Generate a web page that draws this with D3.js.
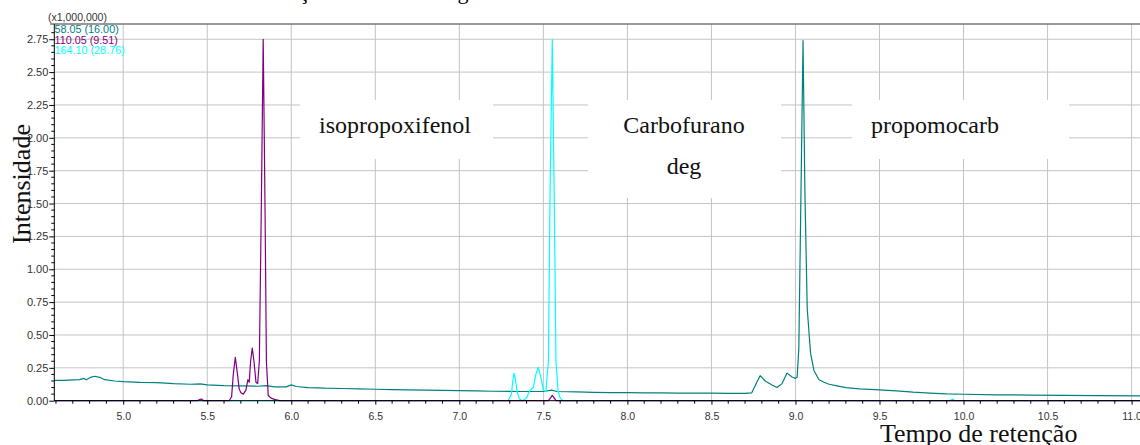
<!DOCTYPE html>
<html>
<head>
<meta charset="utf-8">
<script src="https://cdn.jsdelivr.net/npm/d3@7"></script>
<style>
  body { margin: 0; background: #fff; }
  svg { display: block; }
</style>
</head>
<body>
<div id="chart"></div>
<script>
// ---------------------------  DATA  ---------------------------
// retention time (min), intensity (x1,000,000)

// m/z 58.05 (16.00)
const trace_58 = [
  [4.59,0.155],[4.65,0.155],[4.70,0.158],[4.74,0.160],[4.766,0.170],[4.78,0.160],
  [4.81,0.180],[4.83,0.186],[4.86,0.178],[4.89,0.160],[4.95,0.150],[5.00,0.145],
  [5.10,0.140],[5.20,0.138],[5.30,0.130],[5.40,0.125],[5.46,0.128],[5.50,0.120],
  [5.60,0.115],[5.70,0.113],[5.80,0.110],[5.85,0.115],[5.90,0.105],[5.97,0.105],
  [6.00,0.120],[6.03,0.108],[6.10,0.100],[6.20,0.095],[6.30,0.093],[6.40,0.090],
  [6.50,0.087],[6.60,0.085],[6.70,0.082],[6.80,0.080],[6.90,0.078],[7.00,0.076],
  [7.10,0.074],[7.20,0.072],[7.30,0.071],[7.40,0.070],[7.50,0.070],[7.55,0.080],
  [7.58,0.070],[7.70,0.067],[7.80,0.064],[7.90,0.062],[8.00,0.061],[8.10,0.060],
  [8.20,0.059],[8.30,0.058],[8.40,0.057],[8.50,0.057],[8.60,0.056],[8.70,0.056],
  [8.74,0.060],[8.77,0.140],[8.79,0.190],[8.82,0.150],[8.86,0.120],[8.89,0.100],
  [8.92,0.130],[8.95,0.210],[8.98,0.180],[9.00,0.170],[9.01,0.180],[9.02,0.400],
  [9.033,1.600],[9.045,2.740],[9.056,1.600],[9.070,0.700],[9.090,0.360],[9.110,0.230],
  [9.140,0.160],[9.17,0.140],[9.20,0.125],[9.24,0.115],[9.30,0.100],[9.38,0.090],
  [9.50,0.082],[9.60,0.075],[9.70,0.065],[9.80,0.058],[9.90,0.052],[10.00,0.049],
  [10.20,0.045],[10.40,0.043],[10.60,0.041],[10.80,0.039],[11.05,0.037]
];

// m/z 110.05 (9.51)
const trace_110 = [
  [4.59,0],[5.44,0],[5.455,0.008],[5.466,0.013],[5.478,0],[5.63,0],[5.645,0.030],
  [5.655,0.200],[5.667,0.330],[5.68,0.200],[5.69,0.090],[5.70,0.060],[5.715,0.050],
  [5.73,0.080],[5.742,0.160],[5.75,0.140],[5.758,0.300],[5.768,0.400],[5.778,0.300],
  [5.79,0.140],[5.80,0.130],[5.81,0.300],[5.822,1.500],[5.833,2.750],[5.844,1.450],
  [5.852,0.300],[5.863,0.040],[5.88,0.020],[5.90,0.010],[5.93,0],[7.53,0],
  [7.545,0.025],[7.553,0.040],[7.562,0.025],[7.575,0],[11.05,0]
];

// m/z 164.10 (28.76)
const trace_164 = [
  [4.59,0],[7.29,0],[7.31,0.050],[7.318,0.150],[7.326,0.210],[7.335,0.150],
  [7.345,0.060],[7.36,0.010],[7.375,0],[7.40,0.020],[7.42,0.080],[7.44,0.100],
  [7.455,0.200],[7.47,0.254],[7.485,0.180],[7.50,0.080],[7.515,0.070],[7.53,0.300],
  [7.540,1.600],[7.553,2.750],[7.565,1.500],[7.575,0.300],[7.588,0.070],[7.60,0.020],
  [7.615,0],[9.92,0],[9.935,0.012],[9.95,0],[11.05,0]
];

const series_names  = ["58.05 (16.00)", "110.05 (9.51)", "164.10 (28.76)"];
const series_colors = ["#008080", "#800080", "#00ffff"];

const x_ticks = [5.0, 5.5, 6.0, 6.5, 7.0, 7.5, 8.0, 8.5, 9.0, 9.5, 10.0, 10.5, 11.0];
const y_ticks = [0, 0.25, 0.5, 0.75, 1.0, 1.25, 1.5, 1.75, 2.0, 2.25, 2.5, 2.75];

const peak_labels = [["isopropoxifenol"], ["Carbofurano", "deg"], ["propomocarb"]];

const title_text = "Identificação da amostra degradada";
const x_title = "Tempo de retenção";
const y_title = "Intensidade";
const y_unit  = "(x1,000,000)";

// ---------------------------  LAYOUT  ---------------------------
const W = 1140, H = 445;
const m_left = 54.3, m_right = 1140, m_top = 24, m_bottom = 400.7;

const svg = d3.select("#chart").append("svg")
  .attr("width", W).attr("height", H);

const x = d3.scaleLinear().domain([4.59, 11.05]).range([m_left, m_right]);
const y = d3.scaleLinear().domain([0, 2.866]).range([m_bottom, m_top]);

// clipped caption above the chart (only descenders show)
svg.append("text")
  .attr("x", 215).attr("y", -1)
  .style("font-family", "'Liberation Serif', 'Times New Roman', serif")
  .style("font-size", "22px")
  .text(title_text);

// gridlines
const grid = svg.append("g");
grid.selectAll("line.vx").data(x_ticks).join("line")
  .attr("x1", d => x(d)).attr("x2", d => x(d))
  .attr("y1", m_top).attr("y2", m_bottom)
  .attr("stroke", "#c4c4c4").attr("stroke-width", 1);
grid.selectAll("line.hy").data(y_ticks.slice(1)).join("line")
  .attr("x1", m_left).attr("x2", m_right)
  .attr("y1", d => y(d)).attr("y2", d => y(d))
  .attr("stroke", "#c4c4c4").attr("stroke-width", 1);

// white boxes behind the peak names (cover the grid)
const boxes = [
  { x0: 300, x1: 493,  y0: 100, y1: 159, tx: 395, lines: peak_labels[0] },
  { x0: 588, x1: 781,  y0: 100, y1: 198, tx: 684, lines: peak_labels[1] },
  { x0: 852, x1: 1069, y0: 100, y1: 159, tx: 935, lines: peak_labels[2] }
];
const lab = svg.append("g");
boxes.forEach(b => {
  lab.append("rect")
    .attr("x", b.x0).attr("y", b.y0)
    .attr("width", b.x1 - b.x0).attr("height", b.y1 - b.y0)
    .attr("fill", "#fff");
  b.lines.forEach((t, i) => {
    lab.append("text")
      .attr("x", b.tx).attr("y", 133 + i * 41)
      .attr("text-anchor", "middle")
      .style("font-family", "'Liberation Serif', 'Times New Roman', serif")
      .style("font-size", "24px")
      .attr("fill", "#111")
      .text(t);
  });
});

// top frame line
svg.append("line")
  .attr("x1", 50).attr("x2", m_right)
  .attr("y1", m_top).attr("y2", m_top)
  .attr("stroke", "#777").attr("stroke-width", 1.6);

// traces
const line = d3.line().x(d => x(d[0])).y(d => y(d[1]));
const traces = [trace_58, trace_164, trace_110];
const trace_cols = [series_colors[0], series_colors[2], series_colors[1]];
svg.append("g").selectAll("path").data(traces).join("path")
  .attr("d", line)
  .attr("fill", "none")
  .attr("stroke", (d, i) => trace_cols[i])
  .attr("stroke-width", 1.2)
  .attr("stroke-linejoin", "round");

// Y axis
const y_axis = svg.append("g").attr("transform", `translate(${m_left},0)`);
y_axis.call(d3.axisLeft(y).tickValues(y_ticks).tickSize(5).tickFormat(d3.format(".2f")));
y_axis.selectAll(".minor").data(d3.range(0, 57).map(i => i * 0.05).filter(v => Math.round(v * 100) % 25 !== 0))
  .join("line").attr("class", "minor")
  .attr("x1", -3).attr("x2", 0)
  .attr("y1", d => y(d)).attr("y2", d => y(d))
  .attr("stroke", "#000");
y_axis.select(".domain").attr("d", `M0,${m_top}V${m_bottom}`).attr("stroke", "#000");
y_axis.selectAll(".tick text")
  .attr("x", -6)
  .style("font-family", "Arial, 'Liberation Sans', sans-serif")
  .style("font-size", "11px").attr("fill", "#333");

// X axis
const x_axis = svg.append("g").attr("transform", `translate(0,${m_bottom})`);
x_axis.call(d3.axisBottom(x).tickValues(x_ticks).tickSize(4).tickFormat(d3.format(".1f")));
x_axis.selectAll(".minor").data(d3.range(46, 111).map(i => i / 10).filter(v => Math.round(v * 10) % 5 !== 0))
  .join("line").attr("class", "minor")
  .attr("x1", d => x(d)).attr("x2", d => x(d))
  .attr("y1", 0).attr("y2", 3)
  .attr("stroke", "#000");
x_axis.select(".domain").attr("d", `M${m_left},0H${m_right}`).attr("stroke", "#000");
x_axis.selectAll(".tick text")
  .attr("y", 12)
  .style("font-family", "Arial, 'Liberation Sans', sans-serif")
  .style("font-size", "10.5px").attr("fill", "#333");

// unit and legend
svg.append("text")
  .attr("x", 48).attr("y", 21)
  .style("font-family", "Arial, 'Liberation Sans', sans-serif")
  .style("font-size", "10.5px").attr("fill", "#333")
  .text(y_unit);
svg.append("g").selectAll("text").data(series_names).join("text")
  .attr("x", 54.5).attr("y", (d, i) => 33 + i * 10.6)
  .style("font-family", "Arial, 'Liberation Sans', sans-serif")
  .style("font-size", "10.8px")
  .attr("fill", (d, i) => series_colors[i])
  .text(d => d);

// axis titles
svg.append("text")
  .attr("x", 978.7).attr("y", 442)
  .attr("text-anchor", "middle")
  .style("font-family", "'Liberation Serif', 'Times New Roman', serif")
  .style("font-size", "26px").attr("fill", "#111")
  .text(x_title);
svg.append("text")
  .attr("transform", "translate(30,184) rotate(-90)")
  .attr("text-anchor", "middle")
  .style("font-family", "'Liberation Serif', 'Times New Roman', serif")
  .style("font-size", "26px").attr("fill", "#111")
  .text(y_title);
</script>
</body>
</html>
